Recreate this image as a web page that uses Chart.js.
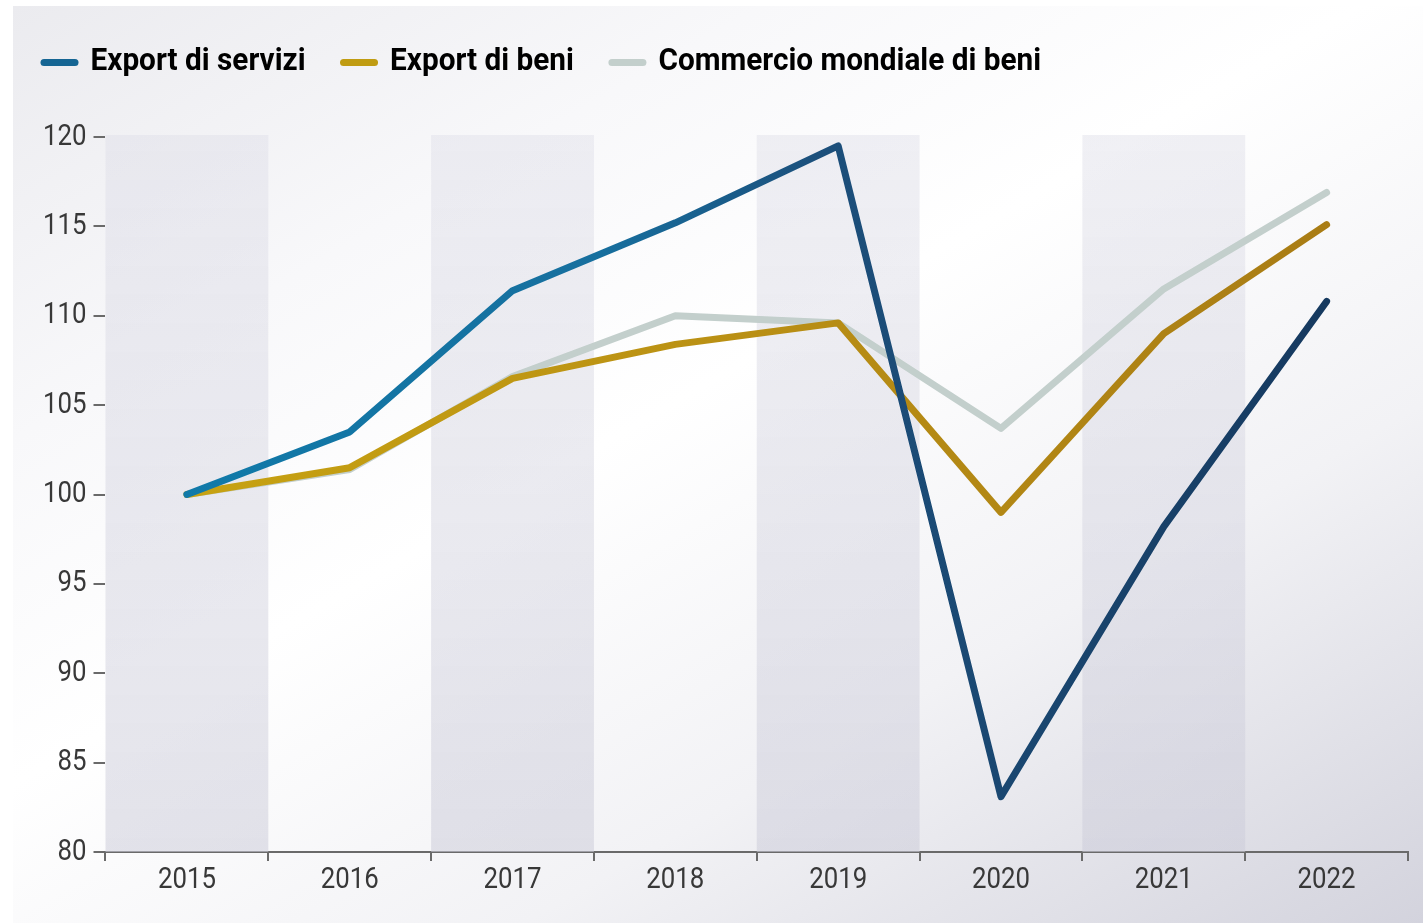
<!DOCTYPE html>
<html>
<head>
<meta charset="utf-8">
<script src="https://cdn.jsdelivr.net/npm/chart.js@4"></script>
<style>
  html, body { margin: 0; padding: 0; background: #fff; }
  #wrap {
    position: absolute; left: 13px; top: 6px; width: 1410px; height: 917px;
    background: linear-gradient(150deg, #ebebef 0%, #f8f8fa 25%, #ffffff 45%, #f2f2f5 70%, #d3d3dd 100%);
  }
  canvas { position: absolute; left: -13px; top: -6px; }
</style>
</head>
<body>
<div id="wrap"><canvas id="chart" width="1423" height="923"></canvas></div>
<script>
const years = ['2015', '2016', '2017', '2018', '2019', '2020', '2021', '2022'];
const exportServizi = [100, 103.5, 111.4, 115.2, 119.5, 83.1, 98.2, 110.8];
const exportBeni = [100, 101.5, 106.5, 108.4, 109.6, 99.0, 109.0, 115.1];
const commercioMondiale = [100, 101.4, 106.6, 110.0, 109.6, 103.7, 111.5, 116.9];
const yTicks = [80, 85, 90, 95, 100, 105, 110, 115, 120];

const fontFamily = 'Roboto, sans-serif';
const legendColors = ['#156593', '#c09c12', '#c3cfcc'];

const canvas = document.getElementById('chart');
const c2d = canvas.getContext('2d');

// no condensed face installed: squeeze the text horizontally instead
function squeeze(ctx) { return ctx.font.indexOf('bold') >= 0 ? 0.96 : 0.86; }
const origFillText = c2d.fillText.bind(c2d);
const origMeasureText = c2d.measureText.bind(c2d);
c2d.fillText = function(text, x, y, maxWidth) {
    const k = squeeze(this);
    this.save();
    this.translate(x, y);
    this.scale(k, 1);
    if (maxWidth !== undefined) origFillText(text, 0, 0, maxWidth / k);
    else origFillText(text, 0, 0);
    this.restore();
};
c2d.measureText = function(text) {
    const m = origMeasureText(text);
    const k = squeeze(this);
    return {
        width: m.width * k,
        actualBoundingBoxAscent: m.actualBoundingBoxAscent,
        actualBoundingBoxDescent: m.actualBoundingBoxDescent,
        actualBoundingBoxLeft: m.actualBoundingBoxLeft * k,
        actualBoundingBoxRight: m.actualBoundingBoxRight * k
    };
};

// horizontal gradient along the plot area
function lineGradient(ctx, stops, fallback) {
    const chart = ctx.chart;
    const area = chart.chartArea;
    if (!area) return fallback;
    const g = chart.ctx.createLinearGradient(area.left, 0, area.right, 0);
    stops.forEach(s => g.addColorStop(s[0], s[1]));
    return g;
}

// alternating vertical bands behind the lines
const bandsPlugin = {
    id: 'bands',
    beforeInit(chart) {
        // extra room under the legend
        const fit = chart.legend.fit;
        chart.legend.fit = function() {
            fit.call(this);
            this.height += 49;
        };
    },
    afterLayout(chart) {
        // legend starts further left than the plot
        chart.legend.left -= 30;
        chart.legend.right -= 30;
    },
    beforeDatasetsDraw(chart) {
        const { ctx, chartArea, scales } = chart;
        const x = scales.x;
        const half = (x.getPixelForValue(1) - x.getPixelForValue(0)) / 2;
        const g = ctx.createLinearGradient(0, chartArea.top, 0, chartArea.bottom);
        g.addColorStop(0, 'rgba(222,222,232,0.45)');
        g.addColorStop(1, 'rgba(205,205,218,0.55)');
        ctx.save();
        ctx.fillStyle = g;
        years.forEach((y, i) => {
            if (i % 2 !== 0) return;
            const c = x.getPixelForValue(i);
            ctx.fillRect(c - half, chartArea.top - 2, half * 2, chartArea.bottom - chartArea.top + 2);
        });
        ctx.restore();
    }
};

new Chart(canvas, {
    type: 'line',
    data: {
        labels: years,
        datasets: [
            {
                label: 'Export di servizi',
                data: exportServizi,
                borderColor: ctx => lineGradient(ctx, [[0, '#0f7cab'], [0.38, '#176f9e'], [0.55, '#1c4f7b'], [1, '#15365b']], legendColors[0])
            },
            {
                label: 'Export di beni',
                data: exportBeni,
                borderColor: ctx => lineGradient(ctx, [[0, '#c9a512'], [0.5, '#b98f14'], [1, '#a77a15']], legendColors[1])
            },
            {
                label: 'Commercio mondiale di beni',
                data: commercioMondiale,
                borderColor: legendColors[2]
            }
        ]
    },
    options: {
        responsive: false,
        animation: false,
        layout: { padding: { left: 36, right: 15, top: 9, bottom: 24 } },
        elements: {
            line: { borderWidth: 7, borderCapStyle: 'round', borderJoinStyle: 'round', tension: 0 },
            point: { radius: 0, hoverRadius: 0 }
        },
        plugins: {
            tooltip: { enabled: false },
            legend: {
                position: 'top',
                align: 'start',
                labels: {
                    usePointStyle: true,
                    pointStyle: 'line',
                    pointStyleWidth: 31,
                    padding: 38,
                    color: '#363636',
                    font: { family: fontFamily, size: 31, weight: 'bold' },
                    generateLabels(chart) {
                        return chart.data.datasets.map((ds, i) => ({
                            text: ds.label,
                            strokeStyle: legendColors[i],
                            fillStyle: legendColors[i],
                            lineWidth: 7,
                            lineCap: 'round',
                            pointStyle: 'line',
                            datasetIndex: i,
                            hidden: false
                        }));
                    }
                }
            }
        },
        scales: {
            x: {
                offset: true,
                grid: { drawOnChartArea: false, offset: true, tickLength: 9, color: '#6a6a6a', lineWidth: 2 },
                border: { display: true, color: '#6a6a6a', width: 2 },
                ticks: { color: '#383838', padding: 1, font: { family: fontFamily, size: 30 } }
            },
            y: {
                min: 80,
                max: 120,
                afterBuildTicks(axis) { axis.ticks = yTicks.map(v => ({ value: v })); },
                grid: { drawOnChartArea: false, tickLength: 12, color: '#6a6a6a', lineWidth: 2 },
                border: { display: false },
                ticks: { color: '#383838', padding: 7, font: { family: fontFamily, size: 30 } }
            }
        }
    },
    plugins: [bandsPlugin]
});
</script>
</body>
</html>
